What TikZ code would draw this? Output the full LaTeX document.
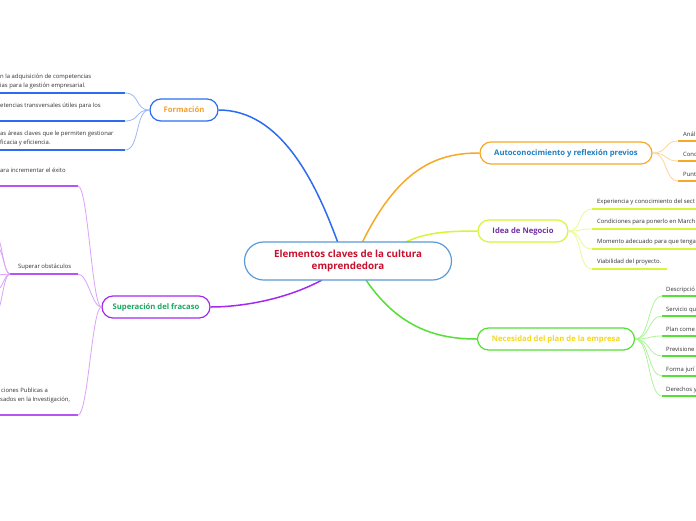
\documentclass[tikz,border=0pt]{standalone}
\usepackage{fontspec}
\setmainfont{Open Sans}
\definecolor{cblue}{HTML}{5B9BD5}
\definecolor{ccrim}{HTML}{C8102E}
\definecolor{fblue}{HTML}{2D6CF2}
\definecolor{fblueL}{HTML}{9DB8F7}
\definecolor{forange}{HTML}{F5A030}
\definecolor{aorange}{HTML}{F7A826}
\definecolor{aorangeL}{HTML}{FBD59C}
\definecolor{atext}{HTML}{1F7FC4}
\definecolor{ilime}{HTML}{D8F53A}
\definecolor{ilimeL}{HTML}{E9FA9A}
\definecolor{ipurple}{HTML}{7030A0}
\definecolor{ngreen}{HTML}{55E035}
\definecolor{ngreenL}{HTML}{AEF59A}
\definecolor{nyellow}{HTML}{F5D81E}
\definecolor{spurple}{HTML}{A52AF0}
\definecolor{spurpleL}{HTML}{D9A3F9}
\definecolor{sgreen}{HTML}{1AA860}
\definecolor{txt}{HTML}{333333}
\tikzset{
  topic/.style={draw, line width=1.2pt, rounded corners=11pt, minimum height=22pt,
    inner sep=0pt, font=\fontsize{7.7}{9}\selectfont\bfseries, align=center, fill=white},
  small/.style={inner sep=0pt, anchor=base west, text=txt, font=\fontsize{5.9}{7}\selectfont},
  uline/.style={line width=2pt},
  twig/.style={line width=0.8pt},
  main/.style={line width=1.5pt}
}
\begin{document}
\begin{tikzpicture}[x=1pt,y=-1pt]
\useasboundingbox (0,0) rectangle (696,520);
\clip (0,0) rectangle (696,520);
\fill[white] (0,0) rectangle (696,520);

% main topic nodes
\node[topic, draw=fblue, text=forange, minimum width=68pt] (form) at (184,110) {Formación};
\node[topic, draw=aorange, text=atext, minimum width=172pt] (auto) at (566,153) {Autoconocimiento y reflexión previos};
\node[topic, draw=ilime, text=ipurple, minimum width=90pt] (idea) at (523,231) {Idea de Negocio};
\node[topic, draw=ngreen, text=nyellow, minimum width=157pt] (nec) at (556,339) {Necesidad del plan de la empresa};
\node[topic, draw=spurple, text=sgreen, minimum width=108pt] (sup) at (156,307) {Superación del fracaso};

% main connectors
\coordinate (c1) at (338,243);
\coordinate (c2) at (362,243);
\coordinate (c3) at (404,243);
\coordinate (c4) at (366,280);
\coordinate (c5) at (322,280);
\draw[main, fblue] (c1) .. controls (315,180) and (280,110) .. (form.east);
\draw[main, aorange] (c2) .. controls (400,165) and (440,153) .. (auto.west);
\draw[main, ilime] (c3) .. controls (425,232) and (450,231) .. (idea.west);
\draw[main, ngreen] (c4) .. controls (400,330) and (440,339) .. (nec.west);
\draw[main, spurple] (c5) .. controls (285,300) and (240,307) .. (sup.east);

\node[draw=cblue, line width=1.2pt, rounded corners=19pt, minimum width=207pt, minimum height=38pt,
  fill=white, text=ccrim, font=\fontsize{9.8}{12.5}\selectfont\bfseries, align=center] (central) at (348,261)
  {Elementos claves de la cultura\\emprendedora};

% ---------- Formación children
\foreach \y/\n in {93/fa,121/fb,150/fc}{
  \coordinate (\n e) at (125,\y);
  \coordinate (\n s) at (0,\y);
  \draw[uline, fblue] (\n s) -- (\n e);
  \draw[twig, fblueL] (form.west) .. controls (135,110) and (140,\y) .. (\n e);
}
\node[small] (fa1) at (0,78) {n la adquisición de competencias};
\node[small] (fa2) at (0,87) {ias para la gestión empresarial.};
\node[small] (fb1) at (0,107) {etencias transversales útiles para los};
\node[small] (fc1) at (0,135) {as áreas claves que le permiten gestionar};
\node[small] (fc2) at (0,144) {ficacia y eficiencia.};

% ---------- Autoconocimiento children
\foreach \y/\n/\t in {141/aa/Anál,161/ab/Conc,181/ac/Punt}{
  \coordinate (\n s) at (678,\y);
  \coordinate (\n e) at (700,\y);
  \draw[uline, aorange] (\n s) -- (\n e);
  \draw[twig, aorangeL] (auto.east) .. controls (668,153) and (664,\y) .. (\n s);
  \node[small] (\n t) at (683,\y-5) {\t};
}

% ---------- Idea children
\foreach \y/\n/\t in {209/ia/{Experiencia y conocimiento del sect},229/ib/{Condiciones para ponerlo en March},249/ic/{Momento adecuado para que tenga}}{
  \coordinate (\n s) at (592,\y);
  \coordinate (\n e) at (700,\y);
  \draw[uline, ilime] (\n s) -- (\n e);
  \draw[twig, ilimeL] (idea.east) .. controls (582,231) and (578,\y) .. (\n s);
  \node[small] (\n t) at (597,\y-6) {\t};
}
\coordinate (ids) at (592,269);
\coordinate (ide) at (667,269);
\draw[uline, ilime] (ids) -- (ide);
\draw[twig, ilimeL] (idea.east) .. controls (582,231) and (578,269) .. (ids);
\node[small] (idt) at (597,263) {Viabilidad del proyecto.};

% ---------- Necesidad children
\foreach \y/\n/\t in {296/na/Descripció,316/nb/Servicio qu,336/nc/Plan come,356/nd/Previsione,376/ne/Forma jurí,396/nf/Derechos y}{
  \coordinate (\n s) at (662,\y);
  \coordinate (\n e) at (700,\y);
  \draw[uline, ngreen] (\n s) -- (\n e);
  \draw[twig, ngreenL] (nec.east) .. controls (650,339) and (648,\y) .. (\n s);
  \node[small] (\n t) at (666,\y-5) {\t};
}

% ---------- Superación children
\coordinate (sas) at (0,186);
\coordinate (sae) at (78,186);
\coordinate (sbs) at (10,274);
\coordinate (sbe) at (78,274);
\coordinate (scs) at (0,415);
\coordinate (sce) at (78,415);
\draw[uline, spurple!80] (sas) -- (sae);
\draw[uline, spurple!80] (sbs) -- (sbe);
\draw[uline, spurple!80] (scs) -- (sce);
\draw[twig, spurpleL] (sup.west) .. controls (92,307) and (88,186) .. (sae);
\draw[twig, spurpleL] (sup.west) .. controls (92,307) and (88,274) .. (sbe);
\draw[twig, spurpleL] (sup.west) .. controls (92,307) and (88,415) .. (sce);
\node[small] (sat) at (0,172) {ara incrementar el éxito};
\node[small] (sbt) at (18,268) {Superar obstáculos};
\node[small] (sct1) at (1,392) {ciones Publicas a};
\node[small] (sct2) at (0,401) {sados en la Investigación,};
% grandchildren of Superar obstáculos (off to the left)
\coordinate (g1) at (-4,236);
\coordinate (g2) at (-4,246);
\coordinate (g3) at (-4,275);
\coordinate (g4) at (-4,290);
\coordinate (g5) at (-4,312);
\draw[twig, spurpleL] (sbs) .. controls (3,274) and (2,236) .. (g1);
\draw[twig, spurpleL] (sbs) .. controls (4,274) and (3,246) .. (g2);
\draw[twig, spurpleL] (sbs) -- (g3);
\draw[twig, spurpleL] (sbs) .. controls (4,274) and (3,290) .. (g4);
\draw[twig, spurpleL] (sbs) .. controls (3,274) and (2,312) .. (g5);
\end{tikzpicture}
\end{document}
